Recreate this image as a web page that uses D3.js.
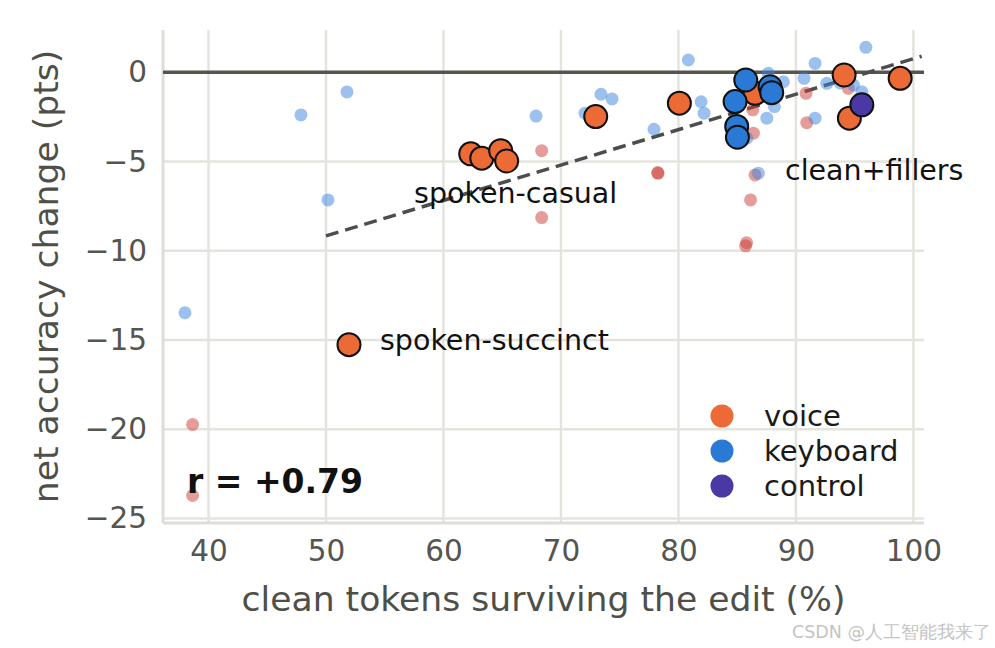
<!DOCTYPE html>
<html>
<head>
<meta charset="utf-8">
<script src="https://cdn.jsdelivr.net/npm/d3@7"></script>
<style>
body { margin:0; background:#fff; }
text { font-family:"DejaVu Sans", sans-serif; }
</style>
</head>
<body>
<svg id="chart"></svg>
<script>
// big dots = one per condition (x = clean tokens kept %, y = net change in pts)
var voiceX   = [51.96, 62.32, 63.26, 64.87, 65.38, 72.96, 80.08, 86.52, 94.10, 98.87, 94.55]
var voiceY   = [-15.26, -4.57, -4.81, -4.39, -4.97, -2.48, -1.73, -1.18, -0.15, -0.34, -2.57]
var keyboardX = [85.73, 84.82, 84.96, 85.02, 87.80, 87.94]
var keyboardY = [-0.43, -1.64, -3.03, -3.64, -0.81, -1.14]
var controlX = [95.61]
var controlY = [-1.82]

// small faint dots
var smallBlueX = [38.0, 47.87, 51.79, 50.17, 67.88, 72.05, 73.41, 74.35, 77.92, 80.84, 81.93, 82.18, 86.80,
                  87.52, 88.17, 87.65, 88.93, 91.63, 90.69, 92.63, 91.63, 95.95, 94.89, 95.61, 93.76, 85.82]
var smallBlueY = [-13.47, -2.39, -1.10, -7.15, -2.45, -2.29, -1.23, -1.49, -3.19, 0.69, -1.65, -2.29, -5.65,
                  -2.57, -1.92, -0.06, -0.53, 0.50, -0.34, -0.62, -2.57, 1.40, -0.71, -1.09, -0.60, -3.69]
var smallRedX = [38.65, 38.65, 68.36, 68.36, 78.24, 78.26, 86.33, 86.38, 86.52, 86.14, 90.86, 90.92, 94.46, 85.80, 85.72]
var smallRedY = [-19.73, -23.71, -4.39, -8.14, -5.62, -5.66, -2.10, -3.41, -5.75, -7.15, -1.18, -2.82, -0.90, -9.55, -9.72]

// fitted trend line
var fitRange = [50.0, 100.7]
var fitSlope = 0.1985
var fitIntercept = -19.09

var xTicks = [40, 50, 60, 70, 80, 90, 100]
var yTicks = [0, -5, -10, -15, -20, -25]

var groups = ["voice", "keyboard", "control"]
var colors = {voice:"#eb6a35", keyboard:"#2a7ad5", control:"#4a38a5"}

var annotations = [
    {text:"spoken-succinct", x:54.6, y:-15.54},
    {text:"spoken-casual", x:57.5, y:-7.31},
    {text:"clean+fillers", x:89.07, y:-6.03}
]

var screen = {width:995, height:648}
var margins = {top:30, bottom:125, left:163, right:71}
var graph = {
    width:screen.width-margins.left-margins.right,
    height:screen.height-margins.top-margins.bottom
}

var svg = d3.select("#chart")
    .attr("width", screen.width)
    .attr("height", screen.height)

var xScale = d3.scaleLinear()
    .domain([36.13, 100.9])
    .range([0, graph.width])

var yScale = d3.scaleLinear()
    .domain([-25.25, 2.37])
    .range([graph.height, 0])

var g = svg.append("g")
    .attr("transform", "translate("+margins.left+","+margins.top+")")

// grid
g.selectAll(".vgrid").data(xTicks).enter().append("line")
    .attr("x1", function(d){ return xScale(d) })
    .attr("x2", function(d){ return xScale(d) })
    .attr("y1", 0).attr("y2", graph.height)
    .attr("stroke", "#e4e4df").attr("stroke-width", 2.5)

g.selectAll(".hgrid").data(yTicks).enter().append("line")
    .attr("y1", function(d){ return yScale(d) })
    .attr("y2", function(d){ return yScale(d) })
    .attr("x1", 0).attr("x2", graph.width)
    .attr("stroke", "#e4e4df").attr("stroke-width", 2.5)

// spines (left + bottom only)
g.append("line").attr("x1", 0).attr("x2", 0).attr("y1", 0).attr("y2", graph.height)
    .attr("stroke", "#deded9").attr("stroke-width", 3)
g.append("line").attr("x1", 0).attr("x2", graph.width).attr("y1", graph.height).attr("y2", graph.height)
    .attr("stroke", "#deded9").attr("stroke-width", 3)

// axes
var xAxis = g.append("g")
    .attr("transform", "translate(0,"+graph.height+")")
    .call(d3.axisBottom(xScale).tickValues(xTicks).tickSize(0).tickPadding(17))
var yAxis = g.append("g")
    .call(d3.axisLeft(yScale).tickValues(yTicks).tickSize(0).tickPadding(16)
          .tickFormat(function(d){ return d < 0 ? "\u2212"+Math.abs(d) : d }))

svg.selectAll(".domain").remove()
svg.selectAll(".tick text")
    .attr("font-family", "DejaVu Sans")
    .attr("font-size", 29.5)
    .attr("fill", "#555550")

// zero line + fit
g.append("line")
    .attr("x1", 0).attr("x2", graph.width)
    .attr("y1", yScale(0)).attr("y2", yScale(0))
    .attr("stroke", "#55554f").attr("stroke-width", 3.5)

g.append("line")
    .attr("x1", xScale(fitRange[0])).attr("y1", yScale(fitIntercept+fitSlope*fitRange[0]))
    .attr("x2", xScale(fitRange[1])).attr("y2", yScale(fitIntercept+fitSlope*fitRange[1]))
    .attr("stroke", "#4d4d4d").attr("stroke-width", 3.5)
    .attr("stroke-dasharray", "13,7")

// faint dots
var drawSmall = function(xs, ys, color)
{
    g.append("g").selectAll("circle")
        .data(xs.map(function(x,i){ return [x, ys[i]] }))
        .enter().append("circle")
        .attr("cx", function(d){ return xScale(d[0]) })
        .attr("cy", function(d){ return yScale(d[1]) })
        .attr("r", 6.5)
        .attr("fill", color)
        .attr("fill-opacity", 0.5)
}
drawSmall(smallRedX, smallRedY, "#cc3b33")
drawSmall(smallBlueX, smallBlueY, "#3984dd")

// big dots
var drawBig = function(xs, ys, color)
{
    g.append("g").selectAll("circle")
        .data(xs.map(function(x,i){ return [x, ys[i]] }))
        .enter().append("circle")
        .attr("cx", function(d){ return xScale(d[0]) })
        .attr("cy", function(d){ return yScale(d[1]) })
        .attr("r", 11.5)
        .attr("fill", color)
        .attr("stroke", "#111")
        .attr("stroke-width", 2)
}
drawBig(voiceX, voiceY, colors.voice)
drawBig(keyboardX, keyboardY, colors.keyboard)
drawBig(controlX, controlY, colors.control)

// labels on points
g.selectAll(".anno").data(annotations).enter().append("text")
    .attr("x", function(d){ return xScale(d.x) })
    .attr("y", function(d){ return yScale(d.y) })
    .attr("font-size", 28.5)
    .attr("fill", "#111")
    .text(function(d){ return d.text })

g.append("text")
    .attr("x", 24).attr("y", 463)
    .attr("font-size", 33).attr("font-weight", "bold")
    .attr("fill", "#111")
    .text("r = +0.79")

// legend
var legend = g.append("g").attr("transform", "translate(559,386)")
groups.forEach(function(name, i)
{
    legend.append("circle")
        .attr("cx", 0).attr("cy", i*35)
        .attr("r", 11.5)
        .attr("fill", colors[name])
    legend.append("text")
        .attr("x", 42).attr("y", i*35)
        .attr("dy", "0.35em")
        .attr("font-size", 29)
        .attr("fill", "#1a1a1a")
        .text(name)
})

// axis titles
svg.append("text")
    .attr("x", margins.left+graph.width/2)
    .attr("y", 611)
    .attr("text-anchor", "middle")
    .attr("font-size", 34.6)
    .attr("fill", "#4f4f4a")
    .text("clean tokens surviving the edit (%)")

svg.append("g")
    .attr("transform", "translate(58,"+(margins.top+graph.height/2)+")")
    .append("text")
    .attr("text-anchor", "middle")
    .attr("transform", "rotate(-90)")
    .attr("font-size", 34.6)
    .attr("fill", "#4f4f4a")
    .text("net accuracy change (pts)")

// watermark
svg.append("text")
    .attr("x", 991).attr("y", 638)
    .attr("text-anchor", "end")
    .attr("font-family", "Noto Sans CJK SC")
    .attr("font-size", 17.5)
    .attr("fill", "#c4c4c4")
    .text("CSDN @人工智能我来了")
</script>
</body>
</html>
